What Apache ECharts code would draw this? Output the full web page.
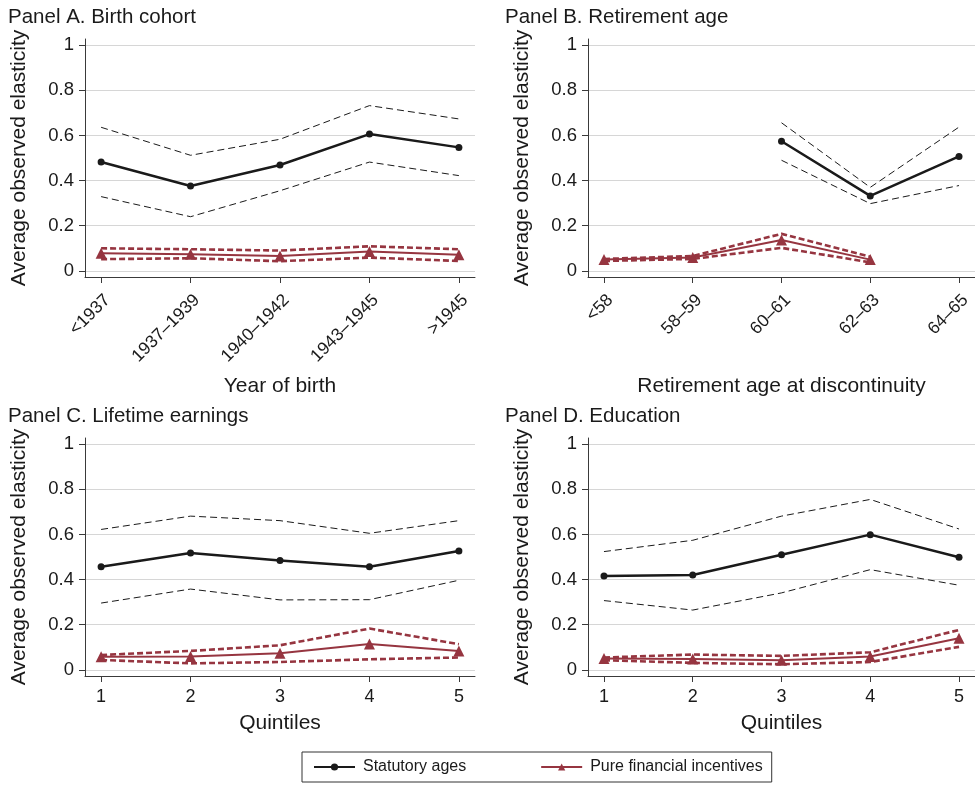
<!DOCTYPE html>
<html><head><meta charset="utf-8">
<script src="https://cdn.jsdelivr.net/npm/echarts@6/dist/echarts.min.js"></script>
<style>html,body{margin:0;padding:0;background:#fff}#c{width:975px;height:787px}</style>
</head><body><div id="c"></div>
<script>
// ---- Data ----
const xPos = [1, 2, 3, 4, 5];
const catsA = ['<1937', '1937–1939', '1940–1942', '1943–1945', '>1945'];
const catsB = ['<58', '58–59', '60–61', '62–63', '64–65'];
const catsC = ['1', '2', '3', '4', '5'];
const catsD = ['1', '2', '3', '4', '5'];

const statA = [0.482, 0.376, 0.469, 0.606, 0.547];
const statA_hi = [0.636, 0.512, 0.583, 0.732, 0.673];
const statA_lo = [0.329, 0.240, 0.355, 0.482, 0.422];
const finA = [0.078, 0.074, 0.066, 0.086, 0.071];
const finA_hi = [0.100, 0.096, 0.090, 0.109, 0.096];
const finA_lo = [0.052, 0.056, 0.043, 0.059, 0.044];

const statB = [null, null, 0.574, 0.332, 0.507];
const statB_hi = [null, null, 0.656, 0.370, 0.637];
const statB_lo = [null, null, 0.490, 0.298, 0.378];
const finB = [0.050, 0.059, 0.137, 0.050, null];
const finB_hi = [0.053, 0.066, 0.164, 0.063, null];
const finB_lo = [0.044, 0.053, 0.102, 0.038, null];

const statC = [0.457, 0.518, 0.484, 0.457, 0.527];
const statC_hi = [0.622, 0.681, 0.661, 0.605, 0.661];
const statC_lo = [0.296, 0.358, 0.310, 0.311, 0.397];
const finC = [0.058, 0.059, 0.074, 0.115, 0.084];
const finC_hi = [0.066, 0.084, 0.109, 0.183, 0.114];
const finC_lo = [0.044, 0.029, 0.035, 0.047, 0.055];

const statD = [0.416, 0.420, 0.510, 0.599, 0.499];
const statD_hi = [0.524, 0.574, 0.681, 0.755, 0.624];
const statD_lo = [0.307, 0.265, 0.341, 0.444, 0.375];
const finD = [0.050, 0.048, 0.043, 0.059, 0.140];
const finD_hi = [0.055, 0.068, 0.062, 0.078, 0.177];
const finD_lo = [0.043, 0.031, 0.025, 0.035, 0.102];

const yTicks = [0, 0.2, 0.4, 0.6, 0.8, 1];
const titles = ['Panel A. Birth cohort', 'Panel B. Retirement age', 'Panel C. Lifetime earnings', 'Panel D. Education'];
const xNames = ['Year of birth', 'Retirement age at discontinuity', 'Quintiles', 'Quintiles'];

// ---- Build ----
const FONT = '"Liberation Sans", Arial, Helvetica, sans-serif';
const BLACK = '#1a1a1a';
const RED = '#963540';
const AX = '#3a3a3a';

const panels = [
  {cats: catsA, s: statA, sh: statA_hi, sl: statA_lo, f: finA, fh: finA_hi, fl: finA_lo, left: 85, top: 39, rot: 45, tl: 8},
  {cats: catsB, s: statB, sh: statB_hi, sl: statB_lo, f: finB, fh: finB_hi, fl: finB_lo, left: 588, top: 39, rot: 45, tl: 505},
  {cats: catsC, s: statC, sh: statC_hi, sl: statC_lo, f: finC, fh: finC_hi, fl: finC_lo, left: 85, top: 438, rot: 0, tl: 8},
  {cats: catsD, s: statD, sh: statD_hi, sl: statD_lo, f: finD, fh: finD_hi, fl: finD_lo, left: 588, top: 438, rot: 0, tl: 505}
];

const grid = [], xAxis = [], yAxis = [], series = [], title = [];
const pair = (arr) => xPos.map((x, i) => [x, arr[i]]);

panels.forEach((p, k) => {
  grid.push({left: p.left, top: p.top, width: 390, height: 238, containLabel: false});
  title.push({text: titles[k], left: p.tl, top: p.top - 32, padding: 0,
    textStyle: {fontFamily: FONT, fontSize: 20.5, fontWeight: 'normal', color: '#1a1a1a'}});
  const cats = p.cats;
  const lbl = {customValues: xPos, rotate: p.rot, margin: p.rot ? 14 : 12,
      fontFamily: FONT, fontSize: p.rot ? 17.5 : 18, color: '#1a1a1a',
      formatter: (v) => cats[Math.round(v) - 1]};
  if (p.rot) lbl.verticalAlign = 'top';
  xAxis.push({
    type: 'value', gridIndex: k, min: 0.82, max: 5.18,
    name: xNames[k], nameLocation: 'middle', nameGap: p.rot ? 99 : 37,
    nameTextStyle: {fontFamily: FONT, fontSize: 21, color: '#1a1a1a'},
    axisLine: {show: true, onZero: false, lineStyle: {color: AX, width: 1}},
    axisTick: {show: true, length: 6, customValues: xPos, lineStyle: {color: AX}},
    axisLabel: lbl,
    splitLine: {show: false}
  });
  yAxis.push({
    type: 'value', gridIndex: k, min: -0.027, max: 1.027,
    name: 'Average observed elasticity', nameLocation: 'middle', nameGap: 55, nameRotate: 90,
    nameTextStyle: {fontFamily: FONT, fontSize: 21, color: '#1a1a1a'},
    axisLine: {show: true, onZero: false, lineStyle: {color: AX, width: 1}},
    axisTick: {show: true, length: 6, customValues: yTicks, lineStyle: {color: AX}},
    axisLabel: {customValues: yTicks, margin: 11, fontFamily: FONT, fontSize: 18.5, color: '#1a1a1a',
      formatter: (v) => String(Math.round(v * 10) / 10)},
    splitLine: {show: true, lineStyle: {color: '#d6d6d6', width: 1}}
  });
  const base = {type: 'line', xAxisIndex: k, yAxisIndex: k, animation: false, silent: true, connectNulls: false};
  series.push(Object.assign({}, base, {name: 'stat_hi', data: pair(p.sh), symbol: 'none',
    lineStyle: {color: BLACK, width: 1, type: [7, 4]}, z: 2}));
  series.push(Object.assign({}, base, {name: 'stat_lo', data: pair(p.sl), symbol: 'none',
    lineStyle: {color: BLACK, width: 1, type: [7, 4]}, z: 2}));
  series.push(Object.assign({}, base, {name: 'fin_hi', data: pair(p.fh), symbol: 'none',
    lineStyle: {color: RED, width: 2.6, type: [6, 3]}, z: 3}));
  series.push(Object.assign({}, base, {name: 'fin_lo', data: pair(p.fl), symbol: 'none',
    lineStyle: {color: RED, width: 2.6, type: [6, 3]}, z: 3}));
  series.push(Object.assign({}, base, {name: 'Pure financial incentives', data: pair(p.f),
    symbol: 'triangle', symbolSize: 11, showAllSymbol: true,
    itemStyle: {color: RED}, lineStyle: {color: RED, width: 2}, z: 4}));
  series.push(Object.assign({}, base, {name: 'Statutory ages', data: pair(p.s),
    symbol: 'circle', symbolSize: 7, showAllSymbol: true,
    itemStyle: {color: BLACK}, lineStyle: {color: BLACK, width: 2.5}, z: 5}));
});

const chart = echarts.init(document.getElementById('c'), null, {renderer: 'canvas'});
chart.setOption({
  backgroundColor: '#ffffff',
  animation: false,
  title: title,
  grid: grid,
  xAxis: xAxis,
  yAxis: yAxis,
  legend: {
    data: ['Statutory ages', 'Pure financial incentives'],
    left: 302, top: 752, itemWidth: 41, itemHeight: 9, itemGap: 74,
    padding: [7, 9, 7, 11], borderColor: '#333', borderWidth: 1,
    selectedMode: false,
    textStyle: {fontFamily: FONT, fontSize: 16, color: '#1a1a1a', padding: [0, 0, 0, 3]}
  },
  series: series
});
</script></body></html>
